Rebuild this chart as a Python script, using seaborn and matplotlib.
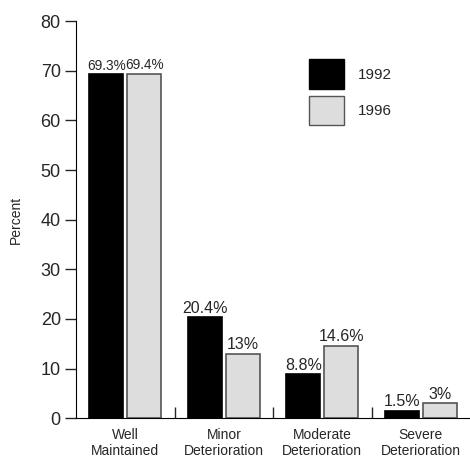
import pandas as pd
import matplotlib
matplotlib.use('Agg')
import matplotlib.pyplot as plt
import seaborn as sns
from matplotlib.patches import Patch

# Data
categories = ['Well\nMaintained', 'Minor\nDeterioration', 'Moderate\nDeterioration', 'Severe\nDeterioration']
years = ['1992', '1996']
values_1992 = [69.3, 20.4, 8.8, 1.5]
values_1996 = [69.4, 13, 14.6, 3]
labels_1992 = ['69.3%', '20.4%', '8.8%', '1.5%']
labels_1996 = ['69.4%', '13%', '14.6%', '3%']

df = pd.DataFrame({
    'category': categories * 2,
    'year': [years[0]] * 4 + [years[1]] * 4,
    'percent': values_1992 + values_1996,
})

sns.set_style('white')
plt.rcParams['font.family'] = ['Liberation Sans', 'DejaVu Sans']

fig = plt.figure(figsize=(4.7, 4.59), dpi=100)
ax = fig.add_axes([0.162, 0.089, 0.838, 0.865])

colors = {'1992': '#000000', '1996': '#dddddd'}
sns.barplot(data=df, x='category', y='percent', hue='year', palette=colors,
            width=0.77, gap=0.1, ax=ax, legend=False, saturation=1)

# edges
for cont, ec in zip(ax.containers, ['#000000', '#555555']):
    for bar in cont:
        bar.set_edgecolor(ec)
        bar.set_linewidth(1.2)

for cont, labs in zip(ax.containers, [labels_1992, labels_1996]):
    texts = ax.bar_label(cont, labels=labs, fontsize=11.5, padding=1)
    # the first group's labels are squeezed in the original
    texts[0].set_fontsize(9.8)

ax.set_xlim(-0.5, 3.5)
ax.set_ylim(0, 80)
ax.set_yticks(range(0, 81, 10))
ax.tick_params(axis='y', direction='out', length=8, width=1, labelsize=13, pad=3, left=True)
ax.tick_params(axis='x', which='major', length=0, labelsize=10, pad=7)
ax.set_xticks([0.5, 1.5, 2.5], minor=True)
ax.tick_params(axis='x', which='minor', direction='in', length=8, width=1, bottom=True)

for side in ['top', 'right']:
    ax.spines[side].set_visible(False)
ax.spines['left'].set_color('black')
ax.spines['bottom'].set_color('black')

ax.set_xlabel('')
ax.set_ylabel('Percent', fontsize=10, labelpad=13)

handles = [Patch(facecolor='#000000', edgecolor='#000000'),
           Patch(facecolor='#dddddd', edgecolor='#555555')]
ax.legend(handles, years, loc='upper left', bbox_to_anchor=(0.557, 0.938),
          frameon=False, fontsize=11, handlelength=2.3, handleheight=2.6,
          labelspacing=0.45, handletextpad=0.9)

fig.savefig('out.png', dpi=100)
